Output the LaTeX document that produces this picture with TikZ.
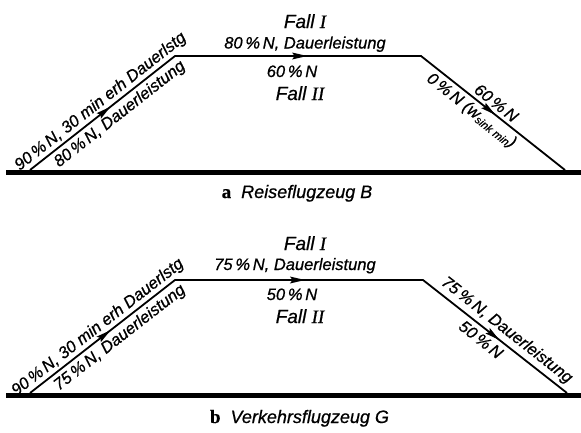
\documentclass[tikz,border=0pt]{standalone}
\usepackage{fontspec}
\newfontfamily\dinfont{Liberation Sans}[FakeBold=0.7]
\newfontfamily\romnfont{Liberation Serif}[FakeBold=0.7]
\usetikzlibrary{calc}
\newcommand{\RomOne}{{\romnfont\itshape I}}
\newcommand{\RomTwo}{{\romnfont\itshape II}}
\newcommand{\midtip}[3]{%
  \coordinate (tipT) at ($(#1)!#3!(#2)$);
  \coordinate (tipB) at ($(tipT)!15pt!(#1)$);
  \coordinate (tipI) at ($(tipT)!12.5pt!(#1)$);
  \fill (tipT) -- ($(tipB)!3.5pt!90:(tipT)$) -- (tipI) -- ($(tipB)!3.5pt!-90:(tipT)$) -- cycle;}
\tikzset{
  lbl/.style={font=\dinfont\itshape\fontsize{16.5}{18}\selectfont, inner sep=0pt},
  fall/.style={font=\dinfont\itshape\fontsize{19}{22}\selectfont, inner sep=0pt, anchor=base},
  capt/.style={font=\dinfont\itshape\fontsize{18}{20}\selectfont, inner sep=0pt, anchor=base},
  ground/.style={line width=4.5pt},
  route/.style={line width=1.8pt, line join=miter}
}
\begin{document}
\begin{tikzpicture}[x=1pt,y=-1pt]
\useasboundingbox (0,0) rectangle (581,432);
% ---------- panel a ----------
\coordinate (agL) at (6,172.5);
\coordinate (agR) at (581,172.5);
\coordinate (a0) at (30,170);
\coordinate (a1) at (175,56);
\coordinate (a2) at (421,56);
\coordinate (a3) at (565,170);
\draw[ground] (agL) -- (agR);
\draw[route] (a0) -- (a1) -- (a2) -- (a3);
\midtip{a0}{a1}{0.555}
\midtip{a1}{a2}{0.537}
\midtip{a2}{a3}{0.515}
\path (a0) -- (a1)
  node[lbl, sloped, pos=0.53, above=2pt] (la1) {90\,\%\,N, 30 min erh Dauerlstg}
  node[lbl, sloped, pos=0.57, below=4pt] (la2) {80\,\%\,N, Dauerleistung};
\path (a2) -- (a3)
  node[lbl, sloped, pos=0.48, above=4pt] (la3) {60\,\%\,N}
  node[lbl, sloped, pos=0.40, below=4pt] (la4) {0\,\%\,N (w\raisebox{-2pt}{\fontsize{11}{11}\selectfont sink min})};
\node[fall] (fa1) at (305,28) {Fall \RomOne};
\node[lbl, anchor=base] (ta1) at (305,48.5) {80\,\%\,N, Dauerleistung};
\node[lbl, anchor=base] (ta2) at (292,77) {60\,\%\,N};
\node[fall] (fa2) at (300,100) {Fall \RomTwo};
\node[capt] (capa) at (297,198) {{\romnfont\upshape\bfseries\fontsize{19}{20}\selectfont a}\ \ Reiseflugzeug B};
% ---------- panel b ----------
\coordinate (bgL) at (6,395.5);
\coordinate (bgR) at (581,395.5);
\coordinate (b0) at (30,393);
\coordinate (b1) at (175,280);
\coordinate (b2) at (423,280);
\coordinate (b3) at (567,393);
\draw[ground] (bgL) -- (bgR);
\draw[route] (b0) -- (b1) -- (b2) -- (b3);
\midtip{b0}{b1}{0.555}
\midtip{b1}{b2}{0.524}
\midtip{b2}{b3}{0.53}
\path (b0) -- (b1)
  node[lbl, sloped, pos=0.51, above=2pt] (lb1) {90\,\%\,N, 30 min erh Dauerlstg}
  node[lbl, sloped, pos=0.57, below=4pt] (lb2) {75\,\%\,N, Dauerleistung};
\path (b2) -- (b3)
  node[lbl, sloped, pos=0.53, above=4pt] (lb3) {75\,\%\,N, Dauerleistung}
  node[lbl, sloped, pos=0.45, below=5pt] (lb4) {50\,\%\,N};
\node[fall] (fb1) at (305,250) {Fall \RomOne};
\node[lbl, anchor=base] (tb1) at (295,270) {75\,\%\,N, Dauerleistung};
\node[lbl, anchor=base] (tb2) at (292,300) {50\,\%\,N};
\node[fall] (fb2) at (300,323) {Fall \RomTwo};
\node[capt] (capb) at (299.5,423) {{\romnfont\upshape\bfseries\fontsize{19}{20}\selectfont b}\ \ Verkehrsflugzeug G};
\end{tikzpicture}
\end{document}
